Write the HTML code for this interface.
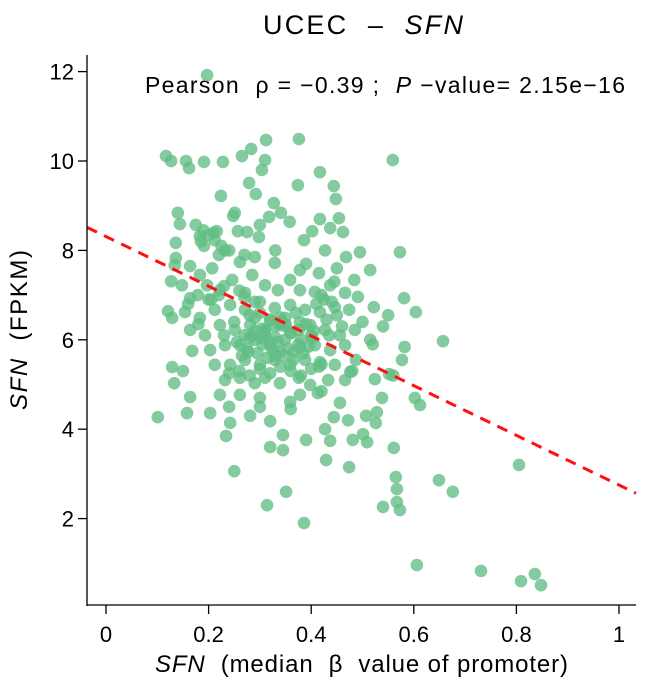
<!DOCTYPE html>
<html><head><meta charset="utf-8"><style>
body{margin:0;background:#fff;}
svg text{font-family:"Liberation Sans",Arial,sans-serif;fill:#000;white-space:pre;}
</style></head><body>
<svg id="chart" width="656" height="688" viewBox="0 0 656 688" xmlns="http://www.w3.org/2000/svg" xml:space="preserve">
<text x="263" y="34" font-size="27" textLength="200" lengthAdjust="spacing">UCEC  –  <tspan font-style="italic">SFN</tspan></text>
<text x="145" y="93" font-size="23" textLength="480" lengthAdjust="spacing">Pearson  ρ = −0.39 ;  <tspan font-style="italic">P</tspan> −value= 2.15e−16</text>
<g id="pts"></g>
<g id="axes"></g>
<text transform="translate(27,410) rotate(-90)" font-size="24" textLength="160" lengthAdjust="spacing"><tspan font-style="italic">SFN</tspan>  (FPKM)</text>
<text x="155" y="672" font-size="24" textLength="413" lengthAdjust="spacing"><tspan font-style="italic">SFN</tspan>  (median  β  value of promoter)</text>
</svg>
<script>
const xTicks=[0,0.2,0.4,0.6,0.8,1];
const xTickLabels=["0","0.2","0.4","0.6","0.8","1"];
const yTicks=[2,4,6,8,10,12];
const yTickLabels=["2","4","6","8","10","12"];
const fitIntercept=8.31;
const fitSlope=-5.56;
const xs=[.197,.117,.127,.156,.162,.191,.228,.265,.283,.312,.376,.31,.304,.279,.224,.251,.292,.327,.374,.417,.444,.448,.559,.573,.581,.604,.582,.657,.577,.552,.538,.602,.612,.528,.526,.509,.561,.565,.567,.567,.573,.54,.649,.676,.805,.606,.731,.809,.836,.848,.386,.314,.351,.25,.101,.129,.133,.164,.158,.203,.234,.281,.242,.32,.32,.39,.429,.437,.345,.444,.472,.507,.501,.481,.427,.345,.474,.413,.456,.524,
.14,.144,.175,.136,.136,.183,.191,.212,.216,.248,.257,.275,.3,.298,.318,.341,.358,.386,.402,.417,.437,.454,.462,.427,.468,.495,.515,.484,.415,.378,.329,.29,.261,.232,.207,.183,.164,.134,.127,.148,.164,.121,.129,.154,.179,.197,.222,.246,.271,.285,.31,.335,.359,.378,.407,.437,.466,.491,.522,.55,.474,.446,.417,.388,.359,.329,.3,.271,.242,.212,.183,.164,.193,.222,.251,.281,.31,.339,.376,.398,.427,.456,.485,.515,.168,.203,.232,.261,.29,.32,.349,.378,.407,.437,.466,.212,.242,.271,.3,.329,.359,.388,.417,.446,.476,.232,.261,.29,.31,.339,.376,.398,.433,.3,.359,.378,.261,.222,.466,.487,
.32,.349,.378,.29,.304,.366,.339,.277,.402,.33,.31,.36,.29,.35,.28,.32,.305,.34,.27,.33,
.19,.2,.21,.185,.225,.24,.22,.205,.26,.27,.25,.23,.28,.3,.31,.32,.33,.34,.35,.36,.37,.38,.39,.4,.41,.42,.43,.44,.45,.46,.255,.265,.275,.285,.295,.305,.315,.325,.335,.345,.355,.365,.375,.385,.395,.405,.415,.425,.435,.445,.24,.26,.28,.3,.32,.34,.36,.38,.4,.42,.2,.22,.18,.16,.15,.24,.3,.36,.42,.48,.5,.52,.54,.56,.27,.33,.39,.45,.23,.29];
const ys=[11.92,10.11,10.0,10.0,9.84,9.98,9.98,10.11,10.27,10.47,10.49,10.02,9.8,9.51,9.22,8.84,9.26,9.06,9.46,9.75,9.44,9.15,10.02,7.96,6.93,6.62,5.84,5.97,5.55,5.23,4.7,4.7,4.54,4.38,4.14,3.71,3.58,2.93,2.66,2.37,2.19,2.26,2.86,2.6,3.2,0.96,0.83,0.6,0.76,0.51,1.9,2.3,2.6,3.06,4.27,5.39,5.03,4.72,4.36,4.36,3.85,4.3,4.14,4.18,3.6,3.76,3.31,3.74,3.87,4.27,4.2,4.3,3.89,3.76,4.0,3.53,3.15,4.81,4.59,5.12,
8.84,8.59,8.57,8.17,7.83,8.32,8.1,8.23,8.43,8.77,8.43,8.41,8.57,8.3,8.75,8.84,8.64,8.23,8.43,8.7,8.5,8.72,8.41,8.0,7.85,7.96,7.56,7.34,7.49,7.56,7.72,7.85,7.74,8.0,7.6,7.45,7.65,7.67,7.31,7.22,6.93,6.64,6.49,6.62,7.0,7.22,7.11,7.34,7.05,7.45,7.22,7.11,7.34,7.11,7.07,7.22,7.05,6.96,6.73,6.55,6.67,6.73,6.62,6.67,6.78,6.71,6.85,6.67,6.78,6.67,6.49,6.22,6.1,6.33,6.22,6.33,6.22,6.33,6.22,6.33,6.22,6.1,6.22,6.0,5.75,5.77,5.88,5.88,6.0,5.88,6.0,5.82,5.88,5.77,5.88,5.44,5.44,5.55,5.44,5.55,5.44,5.55,5.5,5.44,5.28,5.1,5.15,5.03,5.15,5.03,5.15,4.99,5.1,4.7,4.61,4.77,4.77,4.77,5.1,5.55,
6.44,6.49,6.4,6.49,6.04,5.73,5.73,5.73,6.04,6.3,6.1,6.15,6.2,6.35,6.05,5.95,6.25,6.4,6.1,5.65,
8.45,8.35,8.4,8.2,8.1,8.0,7.9,6.9,7.1,6.95,6.4,6.1,6.55,6.6,6.2,6.45,6.05,6.5,6.3,6.15,6.6,6.0,6.35,6.1,6.8,7.0,6.45,6.85,6.55,6.3,5.95,5.65,5.8,6.1,5.7,5.9,5.6,5.75,5.95,5.65,5.8,5.55,5.9,5.7,5.85,6.2,5.4,6.9,6.1,7.3,5.25,5.3,5.2,5.35,5.25,5.4,5.3,5.2,5.35,5.45,6.9,7.0,6.35,6.8,5.3,4.5,4.5,4.45,4.85,5.3,6.4,5.9,6.3,5.2,7.9,8.0,7.7,7.6,7.2,6.85];
const NS='http://www.w3.org/2000/svg';
function sx(v){return 106+v*513;}
function sy(v){return 608-v*44.7;}
const pts=document.getElementById('pts');
for(let i=0;i<xs.length;i++){
  const c=document.createElementNS(NS,'circle');
  
  
  c.setAttribute('cx',sx(xs[i]));c.setAttribute('cy',sy(ys[i]));c.setAttribute('r',6.3);
  c.setAttribute('fill','rgb(98,190,132)');c.setAttribute('fill-opacity','0.78');
  pts.appendChild(c);
}
const ax=document.getElementById('axes');
function mk(tag,attrs){const e=document.createElementNS(NS,tag);for(const k in attrs)e.setAttribute(k,attrs[k]);return e;}
const fit=mk('line',{x1:87,y1:sy(fitIntercept+fitSlope*(-0.037)),x2:636,y2:sy(fitIntercept+fitSlope*1.033),stroke:'#ff1010','stroke-width':3,'stroke-dasharray':'11,8'});


pts.appendChild(fit);
const yl=mk('line',{x1:87,y1:55,x2:87,y2:606,stroke:'#000','stroke-width':1.3});


ax.appendChild(yl);
const xl=mk('line',{x1:87,y1:605,x2:636,y2:605,stroke:'#000','stroke-width':1.3});


ax.appendChild(xl);
xTicks.forEach((v,i)=>{
  const t=mk('line',{x1:sx(v),y1:605,x2:sx(v),y2:614,stroke:'#000','stroke-width':1.3});
  
  
  ax.appendChild(t);
  const l=mk('text',{x:sx(v),y:642,'font-size':22,'text-anchor':'middle'});
  
  
  l.textContent=xTickLabels[i];ax.appendChild(l);
});
yTicks.forEach((v,i)=>{
  const t=mk('line',{x1:78,y1:sy(v),x2:87,y2:sy(v),stroke:'#000','stroke-width':1.3});
  
  
  ax.appendChild(t);
  const l=mk('text',{x:74,y:sy(v)+8,'font-size':22,'text-anchor':'end'});
  
  
  l.textContent=yTickLabels[i];ax.appendChild(l);
});
</script>
</body></html>
